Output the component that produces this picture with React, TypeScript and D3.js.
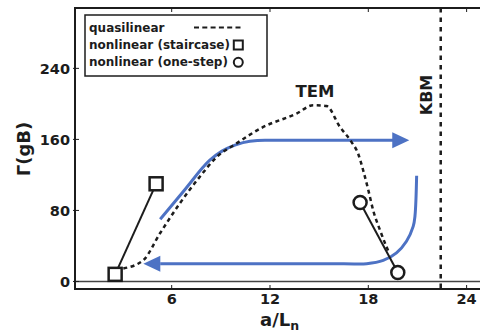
import React from 'react';
import * as d3 from 'd3';

type Pt = [number, number];

// a/L_n vs Gamma(gB)
const quasilinear: Pt[] = [
  [3.05, 14.6], [4.27, 24], [5.28, 54], [6.5, 88], [7.72, 118], [8.74, 140],
  [9.96, 155.5], [11.59, 174], [13.62, 189], [14.64, 198.6], [15.45, 197.5],
  [16.27, 174], [16.98, 157], [17.38, 144], [17.69, 125], [18.0, 103],
  [18.3, 80], [18.71, 58], [19.11, 39], [19.25, 33],
];
const staircase: Pt[] = [[2.55, 8], [5.05, 110]];
const oneStep: Pt[] = [[17.5, 89], [19.8, 10]];

const upperPath: Pt[] = [
  [5.3, 70], [6.8, 103.3], [8.33, 136.6], [9.07, 146.8], [9.86, 153.6],
  [10.77, 158], [11.69, 159], [19.6, 159],
];
const upperTip: Pt = [20.5, 159];
const lowerPath: Pt[] = [
  [20.95, 119], [20.85, 74], [20.74, 62], [20.33, 45.3], [19.72, 32.2],
  [18.91, 23.7], [17.9, 20], [16.5, 20], [5.3, 20],
];
const lowerTip: Pt = [4.27, 20];

const kbmX = 22.42;
const xTicks = [6, 12, 18, 24];
const yTicks = [0, 80, 160, 240];
const legendItems = ['quasilinear', 'nonlinear (staircase)', 'nonlinear (one-step)'];

const W = 480;
const H = 332;
const font = 'DejaVu Sans, sans-serif';
const blue = '#4d72c4';
const ink = '#1c1c1c';

export default function App() {
  const x = d3.scaleLinear().domain([0.1, 25]).range([75, 483]);
  const y = d3.scaleLinear().domain([-8.5, 308]).range([289, 8]);
  const [x0, x1] = x.range();
  const [yb, yt] = y.range();

  const qLine = d3.line<Pt>().x(d => x(d[0])).y(d => y(d[1])).curve(d3.curveMonotoneX);
  const straight = d3.line<Pt>().x(d => x(d[0])).y(d => y(d[1]));
  const smooth = d3.line<Pt>().x(d => x(d[0])).y(d => y(d[1])).curve(d3.curveCatmullRom.alpha(0.5));

  const head = (tip: Pt, dir: number) => {
    const tx = x(tip[0]);
    const ty = y(tip[1]);
    const len = 17 * dir;
    return `M${tx},${ty} L${tx - len},${ty - 8} L${tx - len},${ty + 8} Z`;
  };

  return (
    <svg width={W} height={H} style={{ position: 'absolute', left: 0, top: 0, background: '#fff' }}
      fontFamily={font} fontWeight="bold">
      {/* zero line */}
      <line x1={x0} x2={x1} y1={y(0)} y2={y(0)} stroke="#444" strokeWidth={1.5} />

      {/* ticks inward */}
      {xTicks.map(t => (
        <g key={`xt${t}`}>
          <line x1={x(t)} x2={x(t)} y1={yb} y2={yb - 4} stroke={ink} strokeWidth={1} />
          <line x1={x(t)} x2={x(t)} y1={yt} y2={yt + 4} stroke={ink} strokeWidth={1} />
          <text x={x(t)} y={303.5} textAnchor="middle" fontSize={14.5} fill={ink}>{t}</text>
        </g>
      ))}
      {yTicks.map(t => (
        <g key={`yt${t}`}>
          <line x1={x0 - 2} x2={x0 + 4} y1={y(t)} y2={y(t)} stroke={ink} strokeWidth={1} />
          <text x={70} y={y(t)} dy="0.36em" textAnchor="end" fontSize={14.5} fill={ink}>{t}</text>
        </g>
      ))}

      {/* KBM boundary */}
      <line x1={x(kbmX)} x2={x(kbmX)} y1={yt} y2={yb} stroke={ink} strokeWidth={2.5} strokeDasharray="4.5,5" />
      <text transform={`translate(432,95) rotate(-90)`} textAnchor="middle" fontSize={16} fill={ink}>KBM</text>
      <text x={315} y={96.5} textAnchor="middle" fontSize={16.5} fill={ink}>TEM</text>

      {/* blue arrows */}
      <path d={qLine(upperPath) ?? ''} fill="none" stroke={blue} strokeWidth={3} />
      <path d={head(upperTip, 1)} fill={blue} />
      <path d={smooth(lowerPath) ?? ''} fill="none" stroke={blue} strokeWidth={3} />
      <path d={head(lowerTip, -1)} fill={blue} />

      {/* quasilinear */}
      <path d={qLine(quasilinear) ?? ''} fill="none" stroke={ink} strokeWidth={2.5} strokeDasharray="4,3.5" />

      {/* nonlinear */}
      <path d={straight(staircase) ?? ''} fill="none" stroke={ink} strokeWidth={2} />
      {staircase.map((d, i) => (
        <rect key={`s${i}`} x={x(d[0]) - 6.5} y={y(d[1]) - 6.5} width={13} height={13}
          fill="#fff" stroke={ink} strokeWidth={2.5} />
      ))}
      <path d={straight(oneStep) ?? ''} fill="none" stroke={ink} strokeWidth={2} />
      {oneStep.map((d, i) => (
        <circle key={`o${i}`} cx={x(d[0])} cy={y(d[1])} r={6.5} fill="#fff" stroke={ink} strokeWidth={2.5} />
      ))}

      {/* spines */}
      <line x1={x0} x2={x0} y1={yt} y2={yb} stroke={ink} strokeWidth={2} />
      <line x1={x0 - 1} x2={x1} y1={yt} y2={yt} stroke={ink} strokeWidth={2} />
      <line x1={x0 - 1} x2={x1} y1={yb} y2={yb} stroke={ink} strokeWidth={2} />

      {/* legend */}
      <rect x={85} y={15} width={182} height={61} fill="#fff" stroke={ink} strokeWidth={1.5} />
      {legendItems.map((t, i) => (
        <text key={t} x={89} y={32.3 + i * 17} fontSize={12} fill={ink}>{t}</text>
      ))}
      <line x1={194} x2={243} y1={27.5} y2={27.5} stroke={ink} strokeWidth={2} strokeDasharray="5,3.3" />
      <rect x={238.3 - 4.5} y={45 - 4.5} width={9} height={9} fill="#fff" stroke={ink} strokeWidth={2} />
      <circle cx={238.3} cy={62.3} r={4.5} fill="#fff" stroke={ink} strokeWidth={2} />

      {/* axis titles */}
      <text x={260} y={326} fontSize={18} fill={ink}>
        a/L<tspan fontSize={12.5} dy={4}>n</tspan>
      </text>
      <text transform={`translate(30,149) rotate(-90)`} textAnchor="middle" fontSize={18} fill={ink}>Γ(gB)</text>
    </svg>
  );
}
